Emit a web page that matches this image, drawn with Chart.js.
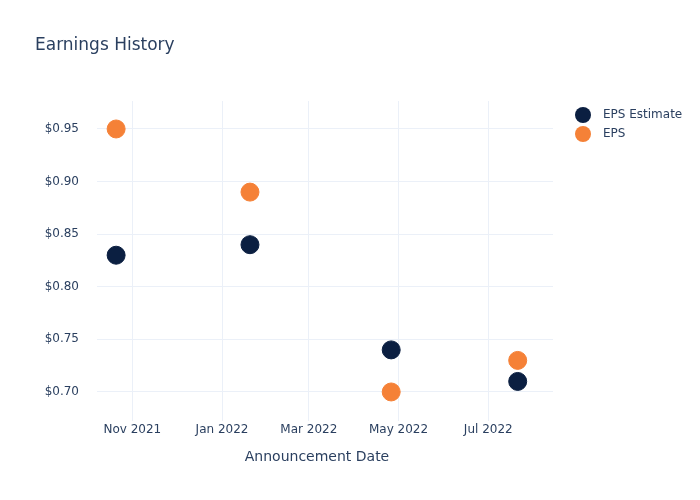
<!DOCTYPE html>
<html>
<head>
<meta charset="utf-8">
<script src="https://cdn.jsdelivr.net/npm/chart.js@4"></script>
<style>
  html, body { margin: 0; padding: 0; background: #fff; }
  #wrap { width: 700px; height: 500px; }
</style>
</head>
<body>
<div id="wrap"><canvas id="chart" width="700" height="500"></canvas></div>
<script>
// announcement dates (UTC)
const dates = ["2021-10-21", "2022-01-20", "2022-04-26", "2022-07-21"];
const epsEstimate = [0.83, 0.84, 0.74, 0.71];
const eps = [0.95, 0.89, 0.70, 0.73];

const xTickDates = ["2021-11-01", "2022-01-01", "2022-03-01", "2022-05-01", "2022-07-01"];
const xTickLabels = ["Nov 2021", "Jan 2022", "Mar 2022", "May 2022", "Jul 2022"];
const yTicks = [0.70, 0.75, 0.80, 0.85, 0.90, 0.95];

const textColor = "#2a3f5f";
const gridColor = "#ebf0f8";
const fontFamily = "'DejaVu Sans', 'Open Sans', sans-serif";

const toMs = (d) => Date.parse(d + "T00:00:00Z");
const points = (vals) => dates.map((d, i) => ({ x: toMs(d), y: vals[i] }));

// title, axis title and legend drawn by hand to sit where plotly puts them
const extras = {
  id: "extras",
  afterDraw(chart) {
    const ctx = chart.ctx;
    ctx.save();
    ctx.fillStyle = textColor;
    ctx.textBaseline = "middle";
    ctx.textAlign = "left";
    ctx.font = "17px " + fontFamily;
    ctx.fillText("Earnings History", 35, 46);

    ctx.textAlign = "center";
    ctx.font = "14px " + fontFamily;
    ctx.fillText("Announcement Date", 317, 457);

    ctx.textAlign = "left";
    ctx.font = "12px " + fontFamily;
    chart.data.datasets.forEach((ds, i) => {
      const y = 115 + i * 19;
      ctx.beginPath();
      ctx.arc(583, y, 8, 0, Math.PI * 2);
      ctx.fillStyle = ds.backgroundColor;
      ctx.fill();
      ctx.fillStyle = textColor;
      ctx.fillText(ds.label, 603, y);
    });
    ctx.restore();
  }
};

new Chart(document.getElementById("chart"), {
  type: "scatter",
  data: {
    datasets: [
      {
        label: "EPS Estimate",
        data: points(epsEstimate),
        backgroundColor: "#0b1f41",
        borderColor: "#0b1f41",
        pointRadius: 9,
        order: 2
      },
      {
        label: "EPS",
        data: points(eps),
        backgroundColor: "#f58137",
        borderColor: "#f58137",
        pointRadius: 9,
        order: 1
      }
    ]
  },
  options: {
    responsive: false,
    animation: false,
    events: [],
    layout: { padding: { left: 0, right: 147, top: 101, bottom: 0 } },
    plugins: {
      legend: { display: false },
      title: { display: false },
      tooltip: { enabled: false }
    },
    scales: {
      x: {
        type: "linear",
        min: toMs("2021-10-08"),
        max: toMs("2022-08-14"),
        afterBuildTicks(scale) {
          scale.ticks = xTickDates.map((d) => ({ value: toMs(d) }));
        },
        afterFit(scale) { scale.height = 79; },
        ticks: {
          color: textColor,
          font: { family: fontFamily, size: 12 },
          padding: 2,
          maxRotation: 0,
          autoSkip: false,
          callback: (v, i) => xTickLabels[i]
        },
        grid: { color: gridColor, drawTicks: false },
        border: { display: false }
      },
      y: {
        min: 0.6724,
        max: 0.9766,
        afterBuildTicks(scale) {
          scale.ticks = yTicks.map((v) => ({ value: v }));
        },
        afterFit(scale) { scale.width = 97; },
        ticks: {
          color: textColor,
          font: { family: fontFamily, size: 12 },
          padding: 18,
          callback: (v) => "$" + v.toFixed(2)
        },
        grid: { color: gridColor, drawTicks: false },
        border: { display: false }
      }
    }
  },
  plugins: [extras]
});
</script>
</body>
</html>
